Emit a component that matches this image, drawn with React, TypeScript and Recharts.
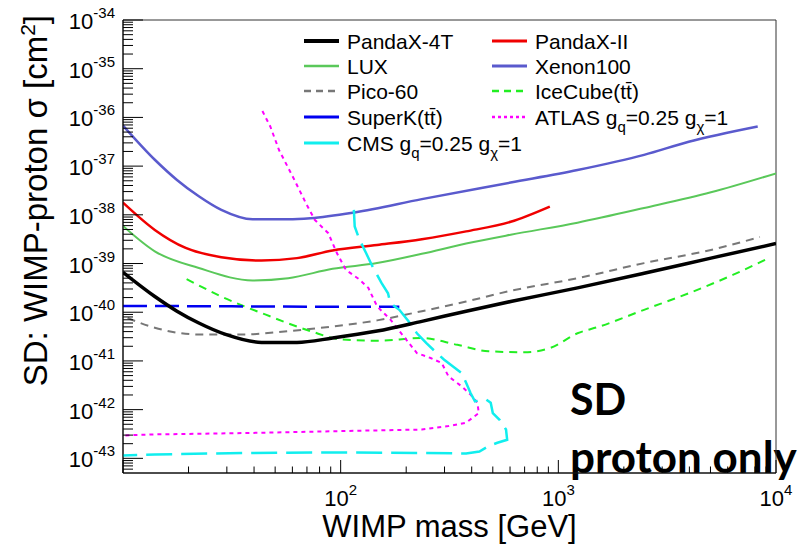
import React from "react";
import {
  LineChart,
  Line,
  XAxis,
  YAxis,
  Legend,
  Label,
  ReferenceArea,
  Customized,
} from "recharts";

// WIMP mass [GeV] and SD WIMP-proton cross section [cm^2], one pair per result
const pandax4tMass = [10, 14.0, 17.7, 22.3, 29.6, 43.3, 63.0, 91.8, 147, 236, 377, 604, 1225, 2477, 5023, 10000];
const pandax4tSigma = [6.6e-40, 2.1e-40, 1.05e-40, 6.0e-41, 3.5e-41, 2.4e-41, 2.4e-41, 2.95e-41, 4.1e-41, 6.5e-41, 1.05e-40, 1.66e-40, 3.16e-40, 6.3e-40, 1.29e-39, 2.57e-39];

const pandax2Mass = [10, 14.0, 19.4, 28.3, 43.3, 63.0, 91.8, 147, 236, 377, 604, 914];
const pandax2Sigma = [1.78e-38, 4.9e-39, 2.09e-39, 1.35e-39, 1.15e-39, 1.29e-39, 1.86e-39, 2.4e-39, 3.16e-39, 4.57e-39, 7.2e-39, 1.48e-38];

const luxMass = [10, 14.0, 22.3, 39.4, 57.4, 91.8, 147, 236, 377, 604, 1225, 2477, 5023, 10000];
const luxSigma = [5.9e-39, 1.78e-39, 8.1e-40, 4.5e-40, 5.0e-40, 7.8e-40, 1.02e-39, 1.58e-39, 2.57e-39, 3.9e-39, 6.9e-39, 1.38e-38, 2.9e-38, 7.1e-38];

const xenon100Mass = [10, 14.0, 17.7, 22.3, 28.3, 39.4, 57.4, 72.6, 116, 236, 604, 1225, 2477, 3972, 8241];
const xenon100Sigma = [6.8e-37, 1.35e-37, 5.2e-38, 2.4e-38, 1.26e-38, 8.1e-39, 8.1e-39, 8.5e-39, 1.12e-38, 2.1e-38, 4.6e-38, 8.3e-38, 1.7e-37, 3.16e-37, 6.5e-37];

const picoMass = [10.5, 14.0, 22.3, 35.8, 57.4, 91.8, 147, 236, 377, 604, 1225, 2477, 5023, 8433];
const picoSigma = [7.6e-41, 4.8e-41, 3.5e-41, 3.5e-41, 4.1e-41, 5.1e-41, 6.8e-41, 1.05e-40, 1.66e-40, 2.75e-40, 5.0e-40, 1.02e-39, 1.9e-39, 3.5e-39];

const icecubeMass = [19.6, 28.3, 45.3, 72.6, 101, 147, 236, 344, 478, 697, 923, 1225, 1549, 2477, 3972, 6368, 9268];
const icecubeSigma = [4.8e-40, 2.1e-40, 8.9e-41, 4.1e-41, 2.75e-41, 2.6e-41, 2.95e-41, 2.14e-41, 1.58e-41, 1.51e-41, 1.86e-41, 3.7e-41, 5.1e-41, 1.12e-40, 2.45e-40, 5.9e-40, 1.29e-39];

const superkMass = [10, 31.6, 100, 186];
const superkSigma = [1.35e-40, 1.32e-40, 1.29e-40, 1.29e-40];

const atlasMass = [43.7, 47.5, 52.1, 60.1, 69.2, 76.0, 87.7, 96.2, 105.7, 122, 134, 147, 169, 195, 224, 259, 291, 313, 360, 395, 425, 431, 377, 313, 236, 91.8, 35.8, 14.0, 10];
const atlasSigma = [1.35e-36, 6.5e-37, 2.14e-37, 6.2e-38, 1.74e-38, 7.9e-39, 4.2e-39, 1.62e-39, 7.4e-40, 4.7e-40, 3.16e-40, 1.32e-40, 7.1e-41, 3.16e-41, 1.45e-41, 1.15e-41, 9.1e-42, 4.8e-42, 3.0e-42, 2.04e-42, 1.38e-42, 8.5e-43, 5.4e-43, 4.6e-43, 3.9e-43, 3.6e-43, 3.3e-43, 3.1e-43, 2.95e-43];

const cmsMass = [115, 116, 122, 131, 140, 154, 165, 169, 186, 205, 224, 247, 271, 298, 327, 360, 377, 395, 414, 466, 489, 500, 537, 575, 582, 525, 478, 434, 377, 236, 91.8, 35.8, 14.0, 10];
const cmsSigma = [1.26e-38, 5.75e-39, 3.1e-39, 1.62e-39, 8.7e-40, 4.0e-40, 2.45e-40, 1.55e-40, 1.12e-40, 6.5e-41, 3.7e-41, 2.34e-41, 1.58e-41, 1.07e-41, 7.8e-42, 5.6e-42, 3.55e-42, 2.19e-42, 1.48e-42, 1.62e-42, 1.38e-42, 8.5e-43, 6.2e-43, 3.9e-43, 2.4e-43, 2.09e-43, 1.78e-43, 1.38e-43, 1.26e-43, 1.29e-43, 1.32e-43, 1.29e-43, 1.2e-43, 1.15e-43];

const X_DOMAIN = [10, 10000];
const Y_DOMAIN = [5e-44, 1e-34];

// log-axis tick positions: decades plus 2..9 minors
const xTicks: number[] = [];
for (let e = 1; e <= 3; e++) for (let m = 1; m <= 9; m++) xTicks.push(m * Math.pow(10, e));
xTicks.push(10000);

const yTicks: number[] = [];
for (let e = -44; e <= -35; e++)
  for (let m = 1; m <= 9; m++) {
    const v = m * Math.pow(10, e);
    if (v >= Y_DOMAIN[0]) yTicks.push(v);
  }
yTicks.push(1e-34);

const FONT = "'Liberation Sans', Arial, Helvetica, sans-serif";

const zip = (m: number[], s: number[]) => m.map((x, i) => ({ m: x, s: s[i] }));

type Part = { t: string; sub?: boolean };
type Series = {
  name: Part[];
  data: { m: number; s: number }[];
  color: string;
  width: number;
  dash?: string;
  legendDash?: string;
  curve: "monotone" | "linear";
  col: number;
  row: number;
};

const series: Series[] = [
  { name: [{ t: "Xenon100" }], data: zip(xenon100Mass, xenon100Sigma), color: "#5a5acd", width: 2.5, curve: "monotone", col: 1, row: 1 },
  { name: [{ t: "PandaX-II" }], data: zip(pandax2Mass, pandax2Sigma), color: "#f00000", width: 2.5, curve: "monotone", col: 1, row: 0 },
  { name: [{ t: "LUX" }], data: zip(luxMass, luxSigma), color: "#5ac85a", width: 2, curve: "monotone", col: 0, row: 1 },
  { name: [{ t: "Pico-60" }], data: zip(picoMass, picoSigma), color: "#777777", width: 2, dash: "8 6", legendDash: "7 5", curve: "monotone", col: 0, row: 2 },
  { name: [{ t: "IceCube(tt\u0304)" }], data: zip(icecubeMass, icecubeSigma), color: "#22ee22", width: 2, dash: "8 6", legendDash: "7 5", curve: "monotone", col: 1, row: 2 },
  { name: [{ t: "SuperK(tt\u0304)" }], data: zip(superkMass, superkSigma), color: "#0000f0", width: 2.5, dash: "24 8", curve: "linear", col: 0, row: 3 },
  {
    name: [{ t: "ATLAS g" }, { t: "q", sub: true }, { t: "=0.25 g" }, { t: "\u03c7", sub: true }, { t: "=1" }],
    data: zip(atlasMass, atlasSigma), color: "#ff00ff", width: 2, dash: "4 4", legendDash: "3 3", curve: "linear", col: 1, row: 3,
  },
  {
    name: [{ t: "CMS g" }, { t: "q", sub: true }, { t: "=0.25 g" }, { t: "\u03c7", sub: true }, { t: "=1" }],
    data: zip(cmsMass, cmsSigma), color: "#11eeee", width: 2.5, dash: "26 9", curve: "linear", col: 0, row: 4,
  },
  { name: [{ t: "PandaX-4T" }], data: zip(pandax4tMass, pandax4tSigma), color: "#000000", width: 3.5, curve: "monotone", col: 0, row: 0 },
];

const isDecade = (v: number) => {
  const lg = Math.log10(v);
  return Math.abs(lg - Math.round(lg)) < 1e-6;
};

const Power = ({ x, y, exp, anchor }: { x: number; y: number; exp: number; anchor: string }) => (
  <text x={x} y={y} textAnchor={anchor} fontFamily={FONT} fill="#000">
    <tspan fontSize={22}>10</tspan>
    <tspan fontSize={15} dy={-11}>
      {exp}
    </tspan>
  </text>
);

// ticks point into the frame, ROOT style
const YTick = (props: any) => {
  const { x, y, payload } = props;
  const major = isDecade(payload.value);
  return (
    <g>
      <line x1={x} x2={x + (major ? 20 : 10)} y1={y} y2={y} stroke="#000" />
      {major && <Power x={x - 8} y={y + 9} exp={Math.round(Math.log10(payload.value))} anchor="end" />}
    </g>
  );
};

const XTick = (props: any) => {
  const { x, y, payload } = props;
  const major = isDecade(payload.value);
  const lg = Math.round(Math.log10(payload.value));
  return (
    <g>
      <line x1={x} x2={x} y1={y} y2={y - (major ? 13 : 6.5)} stroke="#000" />
      {major && lg >= 2 && <Power x={x} y={y + 33} exp={lg} anchor="middle" />}
    </g>
  );
};

const renderName = (parts: Part[]) => {
  let shifted = false;
  return parts.map((p, i) => {
    let dy = 0;
    if (p.sub && !shifted) {
      dy = 7;
      shifted = true;
    } else if (!p.sub && shifted) {
      dy = -7;
      shifted = false;
    }
    return (
      <tspan key={i} dy={dy} fontSize={p.sub ? 15 : 21}>
        {p.t}
      </tspan>
    );
  });
};

const LEG_COL_X = [304, 492];
const LEG_ROW_Y = [41, 66, 91, 117, 143];

const renderLegend = () => (
  <svg width={809} height={170} style={{ overflow: "visible" }}>
    {series.map((s, i) => {
      const x = LEG_COL_X[s.col];
      const y = LEG_ROW_Y[s.row];
      return (
        <g key={i}>
          <line x1={x} x2={x + 35} y1={y} y2={y} stroke={s.color} strokeWidth={s.width + 0.5} strokeDasharray={s.legendDash} />
          <text x={x + 43} y={y + 7.5} fontFamily={FONT} fill="#000">
            {renderName(s.name)}
          </text>
        </g>
      );
    })}
  </svg>
);

const Annotations = () => (
  <g>
    <text transform="translate(47,15) rotate(-90)" textAnchor="end" fontFamily={FONT} fontSize={33} fill="#000">
      SD: WIMP-proton σ [cm
      <tspan fontSize={21} dy={-12}>
        2
      </tspan>
      <tspan dy={12}>]</tspan>
    </text>
    <text x={570} y={415} fontFamily="Lato, 'Open Sans', sans-serif" fontWeight={700} fontSize={43} fill="#000">
      SD
    </text>
    <text x={570} y={473} fontFamily="Lato, 'Open Sans', sans-serif" fontWeight={700} fontSize={44} fill="#000">
      proton only
    </text>
  </g>
);

export default function App() {
  return (
    <div style={{ position: "absolute", left: 0, top: 0, background: "#fff", fontFamily: FONT }}>
      <LineChart width={809} height={549} margin={{ top: 20, right: 33, bottom: 75, left: 122 }}>
        <XAxis
          dataKey="m"
          type="number"
          scale="log"
          domain={X_DOMAIN}
          allowDataOverflow
          ticks={xTicks}
          interval={0}
          tick={XTick}
          tickLine={false}
          tickSize={0}
          tickMargin={0}
          height={1}
          axisLine={{ stroke: "#000" }}
        >
          <Label value="WIMP mass [GeV]" position="bottom" offset={41} fontSize={31} fontFamily={FONT} fill="#000" />
        </XAxis>
        <YAxis
          dataKey="s"
          type="number"
          scale="log"
          domain={Y_DOMAIN}
          allowDataOverflow
          ticks={yTicks}
          interval={0}
          tick={YTick}
          tickLine={false}
          tickSize={0}
          tickMargin={0}
          width={1}
          axisLine={{ stroke: "#000" }}
        />
        <ReferenceArea x1={X_DOMAIN[0]} x2={X_DOMAIN[1]} y1={Y_DOMAIN[0]} y2={Y_DOMAIN[1]} fill="none" fillOpacity={0} stroke="#333" strokeWidth={1} />
        {series.map((s, i) => (
          <Line
            key={i}
            data={s.data}
            dataKey="s"
            type={s.curve}
            stroke={s.color}
            strokeWidth={s.width}
            strokeDasharray={s.dash}
            dot={false}
            activeDot={false}
            isAnimationActive={false}
          />
        ))}
        <Legend verticalAlign="middle" layout="horizontal" content={renderLegend} wrapperStyle={{ left: 0, top: 0, width: 809, height: 170 }} />
        <Customized component={Annotations} />
      </LineChart>
    </div>
  );
}
